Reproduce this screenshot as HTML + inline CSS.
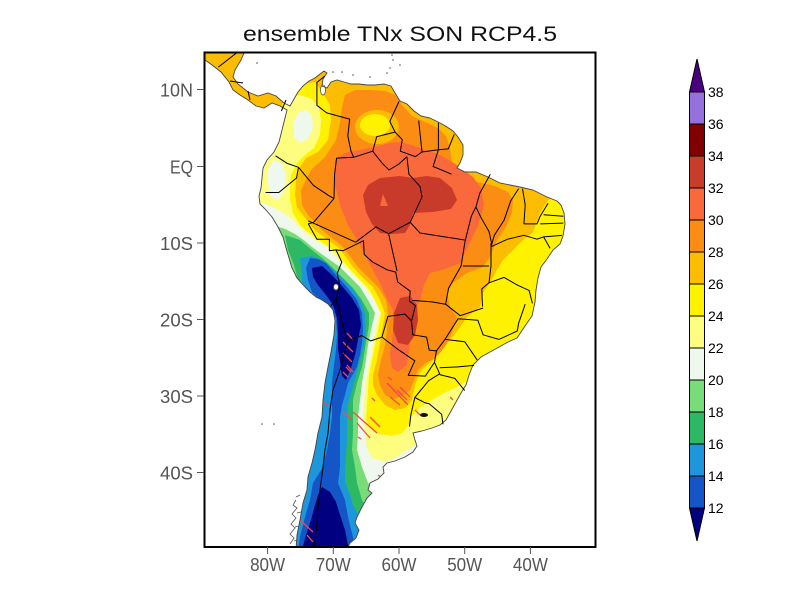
<!DOCTYPE html>
<html>
<head>
<meta charset="utf-8">
<style>
  html,body{margin:0;padding:0;background:#fff;}
  svg{display:block;}
  text{font-family:"Liberation Sans","DejaVu Sans",sans-serif;}
</style>
</head>
<body>
<svg width="800" height="600" viewBox="0 0 800 600" xmlns="http://www.w3.org/2000/svg">
  <rect x="0" y="0" width="800" height="600" fill="#fff"/>
  <defs>
    <clipPath id="frame"><rect x="205" y="53" width="390" height="494"/></clipPath>
    <clipPath id="land">
      <path id="landpath" d="M205,53 L244,53 L241,60 L235,70 L233,77 L238,84 L248,92 L258,96 L268,93 L276,96 L284,103 L290,106 L294,99 L298,92 L303,86 L309,81 L315,78 L320,74 L324,71 L327,73 L323,79 L322,86 L327,88 L331,82 L337,80 L344,82 L351,84 L359,84 L367,85 L375,85 L384,84 L391,86 L395,93 L400,101 L407,104 L414,111 L421,116 L430,118 L440,123 L447,127 L453,131 L458,137 L463,145 L463,155 L460,163 L457,168 L465,172 L476,172 L488,177 L500,183 L510,185 L520,187 L533,190 L547,197 L557,201 L561,205 L564,213 L565,224 L563,236 L560,244 L553,250 L547,259 L541,267 L538,278 L536,290 L535,302 L532,316 L525,326 L517,338 L508,342 L499,347 L490,352 L481,357 L473,365 L469,375 L466,385 L461,393 L456,402 L451,411 L446,420 L440,425 L432,428 L422,431 L413,433 L415,440 L417,446 L413,452 L405,457 L395,461 L387,463 L383,467 L384,473 L378,479 L370,483 L368,490 L372,493 L367,498 L362,507 L357,517 L355,523 L359,530 L356,538 L350,543 L347,549 L296,549 L297,535 L300,520 L303,503 L307,490 L308,477 L312,463 L315,450 L318,433 L322,417 L323,400 L325,383 L328,367 L331,352 L334,335 L335,320 L333,310 L328,304 L322,300 L316,297 L310,292 L304,286 L297,278 L292,268 L289,258 L286,248 L283,237 L278,227 L272,217 L266,210 L260,204 L259,196 L261,188 L262,178 L263,168 L267,160 L274,152 L279,142 L282,130 L285,118 L287,110 L280,106 L272,103 L264,108 L256,106 L248,100 L240,95 L233,90 L229,82 L221,72 L212,65 L205,60 Z"/>
    </clipPath>
  </defs>

  <!-- Title -->
  <text x="400" y="41" font-size="21" text-anchor="middle" fill="#111" textLength="314" lengthAdjust="spacingAndGlyphs">ensemble TNx SON RCP4.5</text>

  <g clip-path="url(#frame)">
    <g clip-path="url(#land)">
      <rect x="190" y="40" width="430" height="530" fill="#fcbc00"/>
      <!-- T>=28 -->
      <path fill="#fb8c14" d="M336,140 L340,123 L342,108 L345,95 L355,90 L370,90 L385,91 L395,95 L402,105 L412,116 L425,122 L438,128 L446,136 L450,148 L452,162 L462,180 L477,182 L495,186 L508,192 L513,200 L512,212 L506,227 L497,240 L490,257 L483,267 L467,273 L453,283 L447,293 L450,307 L457,317 L453,330 L447,343 L437,358 L427,362 L418,370 L414,380 L410,390 L403,396 L393,399 L385,395 L380,385 L378,375 L381,360 L385,345 L387,330 L388,313 L386,300 L378,287 L368,277 L358,267 L343,247 L332,238 L322,230 L315,222 L308,215 L302,205 L301,190 L311,170 L325,157 Z"/>
      <!-- T>=30 -->
      <path fill="#fa693b" d="M335,160 L345,153 L360,150 L375,147 L390,143 L402,142 L417,147 L440,155 L457,165 L473,177 L481,188 L484,205 L478,226 L471,240 L465,253 L461,263 L445,269 L430,273 L424,285 L420,300 L414,313 L411,333 L409,350 L407,365 L398,372 L392,368 L390,355 L392,340 L394,325 L393,310 L386,297 L380,283 L370,265 L360,245 L348,225 L340,205 L335,185 Z"/>
      <!-- T>=32 -->
      <path fill="#c83b2b" d="M363,195 L368,185 L380,178 L400,176 L413,178 L427,176 L440,178 L452,188 L457,200 L451,209 L433,212 L413,213 L410,225 L405,233 L393,234 L380,233 L372,224 L366,212 Z"/>
      <path fill="#fa693b" d="M380,206 L383,194 L388,206 Z"/>
      <path fill="#c83b2b" d="M400,298 L410,296 L417,305 L418,320 L415,335 L408,345 L398,343 L393,330 L394,313 Z"/>
      <!-- Venezuela blob -->
      <ellipse cx="377" cy="127" rx="22" ry="17" fill="#fcbc00"/>
      <ellipse cx="375" cy="125" rx="15" ry="11" fill="#fff200"/>
      <!-- T<26 -->
      <path fill="#fff200" d="M283,100 L290,86 L315,82 L324,95 L330,105 L331,120 L328,140 L318,152 L306,158 L300,167 L296,180 L295,195 L297,207 L305,218 L315,230 L328,240 L338,247 L346,257 L353,267 L362,277 L373,287 L380,300 L385,313 L383,325 L380,343 L377,360 L373,375 L373,385 L377,395 L385,405 L395,410 L405,408 L412,400 L415,385 L420,372 L427,365 L433,360 L440,353 L450,340 L460,327 L467,317 L480,307 L483,293 L490,283 L497,270 L503,260 L513,250 L523,240 L533,232 L540,213 L548,200 L553,198 L610,190 L610,610 L190,610 L190,130 L270,122 L282,108 Z"/>
      <!-- T<24 -->
      <path fill="#fdfd80" d="M286,97 L300,95 L312,99 L319,108 L321,120 L320,135 L314,148 L305,155 L297,163 L291,175 L290,190 L290,200 L293,213 L300,225 L308,232 L322,242 L333,250 L342,260 L348,267 L358,278 L368,288 L375,300 L381,313 L378,330 L375,345 L372,360 L369,375 L368,390 L367,405 L366,420 L370,428 L380,434 L392,436 L402,433 L408,426 L412,416 L420,407 L432,400 L444,393 L457,387 L465,382 L470,380 L610,378 L610,610 L190,610 L190,130 L270,122 L282,108 Z"/>
      <!-- T<22 -->
      <path fill="#eff8ec" d="M306,110 L312,116 L313,128 L308,139 L300,143 L294,137 L293,124 L298,113 Z"/>
      <path fill="#eff8ec" d="M273,160 L282,163 L286,175 L284,190 L278,200 L271,197 L268,185 L268,170 Z"/>
      <path fill="#eff8ec" d="M190,203 L264,203 L272,207 L282,212 L293,220 L302,230 L315,240 L327,247 L336,257 L345,267 L355,277 L365,287 L374,300 L380,313 L376,325 L373,343 L370,360 L366,380 L364,400 L363,417 L365,433 L367,448 L372,458 L382,461 L392,460 L401,454 L410,448 L418,444 L430,446 L610,448 L610,610 L190,610 Z"/>
      <!-- T<20 -->
      <path fill="#78dc78" d="M190,225 L276,226 L285,229 L295,234 L305,241 L312,247 L320,253 L330,260 L340,267 L350,277 L360,287 L368,300 L375,313 L371,330 L368,345 L366,360 L362,383 L360,400 L358,417 L358,433 L357,450 L362,467 L368,483 L375,490 L610,495 L610,610 L190,610 Z"/>
      <!-- T<18 -->
      <path fill="#2db964" d="M285,235 L300,240 L312,250 L322,258 L332,267 L343,278 L353,288 L362,300 L369,313 L369,325 L366,343 L362,367 L357,383 L353,400 L353,417 L353,433 L352,450 L355,467 L357,483 L362,500 L366,507 L380,515 L380,610 L190,610 L190,330 L300,305 L303,292 L298,280 L294,265 L288,250 Z"/>
      <!-- T<16 -->
      <path fill="#1e96dc" d="M300,258 L312,256 L322,260 L332,268 L342,278 L352,288 L360,300 L365,313 L366,330 L364,345 L360,360 L356,375 L352,390 L348,405 L347,420 L347,440 L346,455 L345,470 L345,483 L350,495 L353,505 L358,515 L362,525 L380,530 L380,610 L190,610 L190,330 L306,300 L302,287 L302,275 Z"/>
      <!-- T<14 -->
      <path fill="#1455c8" d="M310,258 L318,259 L326,263 L336,275 L347,287 L357,300 L362,313 L363,330 L362,343 L360,355 L357,367 L352,376 L348,383 L345,395 L342,405 L340,417 L340,433 L340,450 L340,467 L338,483 L345,500 L348,517 L353,537 L355,550 L298,550 L300,537 L305,517 L310,500 L313,483 L323,467 L327,450 L330,433 L332,417 L332,400 L332,383 L334,365 L336,350 L337,335 L336,318 L330,308 L320,300 L312,292 L308,280 L306,268 Z"/>
      <!-- T<12 -->
      <path fill="#000080" d="M312,268 L322,266 L332,275 L342,286 L352,298 L359,310 L361,325 L358,340 L355,355 L351,368 L346,380 L342,376 L340,362 L338,348 L338,332 L337,318 L333,305 L326,295 L318,285 L313,277 Z"/>
      <path fill="#000080" d="M322,487 L330,492 L336,502 L340,515 L345,530 L349,550 L302,550 L306,535 L311,520 L315,505 L318,495 Z"/>
      <!-- hatching -->
      <g stroke="#ff4646" stroke-width="1.3" fill="none">
        <path d="M343,353 L352,362 M346,367 L351,372 M347,333 L353,340 M343,342 L353,352 M347,365 L353,372 M343,372 L348,377 M388,377 L392,380 M387,383 L408,405 M397,390 L407,400 M400,387 L410,397 M390,397 L400,405 M372,398 L375,401 M343,412 L352,420 M353,412 L377,433 M370,417 L380,427 M357,423 L370,438 M358,437 L361,439 M378,475 L382,478 M450,397 L453,400 M415,410 L420,415 M323,402 L327,405 M300,520 L313,532 M307,535 L313,542"/>
      </g>
    </g>
    <!-- lakes -->
    <ellipse cx="323" cy="90" rx="2.5" ry="5" fill="#fff" stroke="#555" stroke-width="0.8"/>
    <ellipse cx="336" cy="287" rx="2.5" ry="3" fill="#fff" stroke="#555" stroke-width="0.8"/>
    <ellipse cx="424" cy="415" rx="4" ry="2" fill="#111"/>
    <!-- coastline -->
    <use href="#landpath" fill="none" stroke="#444" stroke-width="0.9"/>
    <!-- Chile fjords -->
    <g stroke="#555" stroke-width="0.8" fill="none">
      <path d="M296,500 L293,505 L297,508 L292,514 L296,518 L291,524 L295,528 L290,534 L294,538 L290,544"/>
      <path d="M300,495 L296,497 M301,512 L297,513 M299,526 L295,527 M298,540 L294,541"/>
    </g>
    <!-- islands -->
    <g fill="#555">
      <circle cx="257" cy="63" r="0.8"/><circle cx="333" cy="72" r="0.8"/><circle cx="342" cy="72" r="0.8"/>
      <circle cx="353" cy="75" r="0.8"/><circle cx="370" cy="77" r="0.8"/><circle cx="387" cy="73" r="0.8"/>
      <circle cx="390" cy="68" r="0.8"/><circle cx="393" cy="60" r="0.8"/><circle cx="392" cy="55" r="0.8"/>
      <circle cx="400" cy="65" r="0.8"/><circle cx="262" cy="424" r="0.8"/><circle cx="274" cy="424" r="0.8"/>
    </g>
    <!-- borders -->
    <g stroke="#000" stroke-width="1" fill="none" stroke-linejoin="round">
      <path d="M324.8,76.2 L316.9,82.4 L316.9,105.3 L326.7,112.9 L349.7,119.1 L347.8,135.9 L351,151.2 L353.7,157.3"/>
      <path d="M353.7,157.3 L336.6,158.1 L334.6,174.2 L334,198.6"/>
      <path d="M334,198.6 L328.7,195.6 L313.6,185.6 L298.5,167.3"/>
      <path d="M298.5,167.3 L287.3,163.4 L275.5,155.8"/>
      <path d="M298.5,167.3 L296.5,178 L278.8,192.5 L265.6,192.5"/>
      <path d="M353.7,157.3 L372.7,151.2 L376.7,136.7 L385.9,134.4 L395.1,132.1"/>
      <path d="M395.1,132.1 L389.8,121.4 L399,101.5"/>
      <path d="M395.1,132.1 L402.3,139.7 L400.3,151.2 L415.4,156.6 L422,152"/>
      <path d="M422,152 L418.7,120.6"/>
      <path d="M422,152 L438.4,149.7"/>
      <path d="M438.4,149.7 L438.4,122.9"/>
      <path d="M438.4,149.7 L448.3,148.9 L454.2,134.4"/>
      <path d="M334,198.6 L313.6,222.3 L308.3,223.9 L316.9,239.2 L329.4,239.2 L329.4,250.7 L336,249.9"/>
      <path d="M336,249.9 L341.8,262.1 L337.2,273.6 L339.9,285.1 L336,298.8"/>
      <path d="M336,298.8 L330.7,306.5"/>
      <path d="M336,249.9 L343.2,250.7 L363.5,240.7 L364.2,254.5 L372.7,262.1 L387.2,269.8 L395.7,272.1 L397.7,282 L410.2,291.2 L409.5,301.1 L415.4,305.7 L411.5,321"/>
      <path d="M336,298.8 L339.9,311.9 L343.2,327.2 L347.8,340.9"/>
      <path d="M347.8,340.9 L361.6,335.6 L370.8,340.9 L381.9,337.1"/>
      <path d="M381.9,337.1 L387.9,316.4 L405,314.1 L411.5,321"/>
      <path d="M347.8,340.9 L345,350 L340,370 L333,390 L330,410 L328,433 L325,450 L323,467 L320,490 L318,507 L317,523 L315,540 L314,550"/>
      <path d="M411.5,321 L412.8,334.8 L426.6,337.1 L429.2,350.1 L436.4,350.9 L434.5,362.3"/>
      <path d="M381.9,337.1 L399,350.1 L414.8,360.8 L408.2,375.3 L425.3,376.1 L434.5,362.3"/>
      <path d="M434.5,362.3 L439.7,373.8 L428.6,380.7 L414.8,397.5"/>
      <path d="M414.8,397.5 L425.3,402.9 L429.2,403.7 L441.7,414.4 L443,424.3"/>
      <path d="M414.8,397.5 L410.8,415.1 L409.5,426.6"/>
      <!-- Brazil states -->
      <path d="M308.3,220.8 L355.6,242.2"/>
      <path d="M355.6,242.2 L376,226.9 L388.6,233.8 L397,271"/>
      <path d="M388.6,233.8 L410.2,222.3"/>
      <path d="M410.2,222.3 L422,197.1 L420,186.4 L408.9,174.2 L406.9,156.6"/>
      <path d="M406.9,156.6 L399,164 L389,170 L382,163 L372.7,151.2"/>
      <path d="M438.4,149.7 L433.1,166.5 L451.6,174.2"/>
      <path d="M410.2,222.3 L420,233 L464.7,240"/>
      <path d="M465,241.5 L471.3,216.2 L475.9,207"/>
      <path d="M475.9,207 L479.8,193.3 L490.3,174.2"/>
      <path d="M475.9,207 L481.1,217.8 L489,231.5 L491.6,243"/>
      <path d="M462.8,266 L489,266"/>
      <path d="M491,243 L491,266"/>
      <path d="M465,241.5 L461.1,266 L448.6,288.1 L445.6,304.2"/>
      <path d="M412.1,300.4 L431.9,301.9 L445.6,304.2"/>
      <path d="M445.6,304.2 L460.2,315.7 L483.1,308"/>
      <path d="M491,266 L489,282.8 L481.8,288.9 L482.5,306.5"/>
      <path d="M458.1,318.7 L445,339.4 L436.4,350.9"/>
      <path d="M458.1,318.7 L477.9,320.3 L483.1,334.8 L498.9,339.4"/>
      <path d="M498.9,339.4 L517.3,331 L518.6,323.3 L525.2,304.2"/>
      <path d="M489,282.8 L504.1,277.4 L517.3,285.1 L529.1,290.4 L532.4,303.4"/>
      <path d="M491,246.8 L507.5,239.2 L523.9,235.3 L537,239.2 L543.6,236.9 L550.1,248.4"/>
      <path d="M518.6,188.7 L510.7,200.9 L504.1,220.1 L494.3,235.3 L491,246.8"/>
      <path d="M522.5,188.7 L525.2,204.8 L523.9,223.9"/>
      <path d="M548.1,203.2 L540.2,216.2 L537,223.9 L523.9,223.9"/>
      <path d="M563.3,223.1 L540.2,223.9"/>
      <path d="M563.3,216.2 L543.6,214.7"/>
      <path d="M562,235.4 L543.6,236.9"/>
      <path d="M445,339.4 L464.7,341.7 L474.6,356.2 L477.2,360"/>
      <path d="M439.7,367.7 L458.1,366.9 L473.9,365.4"/>
      <path d="M439.7,374.6 L454.9,378.4 L464.7,390.6"/>
      <!-- Central America -->
      <path d="M286,100 L281.4,111"/>
      <path d="M248,91 L250,100"/>
      <path d="M230,81 L243,83"/>
      <path d="M218.3,67.1 L236,53.3"/>
    </g>
  </g>

  <!-- frame -->
  <rect x="204.5" y="52.5" width="391" height="494.5" fill="none" stroke="#000" stroke-width="2"/>

  <!-- Y ticks & labels -->
  <g stroke="#555" stroke-width="1">
    <line x1="197" y1="89.5" x2="204" y2="89.5"/>
    <line x1="197" y1="166.5" x2="204" y2="166.5"/>
    <line x1="197" y1="243" x2="204" y2="243"/>
    <line x1="197" y1="319.5" x2="204" y2="319.5"/>
    <line x1="197" y1="396" x2="204" y2="396"/>
    <line x1="197" y1="472.5" x2="204" y2="472.5"/>
    <line x1="267.6" y1="547" x2="267.6" y2="554"/>
    <line x1="333.3" y1="547" x2="333.3" y2="554"/>
    <line x1="399" y1="547" x2="399" y2="554"/>
    <line x1="464.7" y1="547" x2="464.7" y2="554"/>
    <line x1="530.4" y1="547" x2="530.4" y2="554"/>
  </g>
  <g font-size="18" fill="#555" text-anchor="end">
    <text x="193" y="96.5" textLength="33" lengthAdjust="spacingAndGlyphs">10N</text>
    <text x="193" y="173.5" textLength="23" lengthAdjust="spacingAndGlyphs">EQ</text>
    <text x="193" y="250" textLength="33" lengthAdjust="spacingAndGlyphs">10S</text>
    <text x="193" y="326.5" textLength="33" lengthAdjust="spacingAndGlyphs">20S</text>
    <text x="193" y="403" textLength="33" lengthAdjust="spacingAndGlyphs">30S</text>
    <text x="193" y="479.5" textLength="33" lengthAdjust="spacingAndGlyphs">40S</text>
  </g>
  <g font-size="18" fill="#555" text-anchor="middle">
    <text x="267.6" y="571" textLength="35" lengthAdjust="spacingAndGlyphs">80W</text>
    <text x="333.3" y="571" textLength="35" lengthAdjust="spacingAndGlyphs">70W</text>
    <text x="399" y="571" textLength="35" lengthAdjust="spacingAndGlyphs">60W</text>
    <text x="464.7" y="571" textLength="35" lengthAdjust="spacingAndGlyphs">50W</text>
    <text x="530.4" y="571" textLength="35" lengthAdjust="spacingAndGlyphs">40W</text>
  </g>

  <!-- Colorbar -->
  <g stroke="#000" stroke-width="1">
    <path d="M689.5,92 L697,59 L704.5,92 Z" fill="#4b0082"/>
    <rect x="689.5" y="92" width="15" height="32" fill="#9670dc"/>
    <rect x="689.5" y="124" width="15" height="32" fill="#800000"/>
    <rect x="689.5" y="156" width="15" height="32" fill="#c83c2a"/>
    <rect x="689.5" y="188" width="15" height="32" fill="#fa693b"/>
    <rect x="689.5" y="220" width="15" height="32" fill="#fb8c14"/>
    <rect x="689.5" y="252" width="15" height="32" fill="#fcbc00"/>
    <rect x="689.5" y="284" width="15" height="32" fill="#fff200"/>
    <rect x="689.5" y="316" width="15" height="32" fill="#fdfd80"/>
    <rect x="689.5" y="348" width="15" height="32" fill="#eff8ec"/>
    <rect x="689.5" y="380" width="15" height="32" fill="#78dc78"/>
    <rect x="689.5" y="412" width="15" height="32" fill="#2db964"/>
    <rect x="689.5" y="444" width="15" height="32" fill="#1e96dc"/>
    <rect x="689.5" y="476" width="15" height="32" fill="#1455c8"/>
    <path d="M689.5,508 L697,541 L704.5,508 Z" fill="#000080"/>
  </g>
  <g font-size="14" fill="#000">
    <text x="708" y="97">38</text>
    <text x="708" y="129">36</text>
    <text x="708" y="161">34</text>
    <text x="708" y="193">32</text>
    <text x="708" y="225">30</text>
    <text x="708" y="257">28</text>
    <text x="708" y="289">26</text>
    <text x="708" y="321">24</text>
    <text x="708" y="353">22</text>
    <text x="708" y="385">20</text>
    <text x="708" y="417">18</text>
    <text x="708" y="449">16</text>
    <text x="708" y="481">14</text>
    <text x="708" y="513">12</text>
  </g>
</svg>
</body>
</html>
